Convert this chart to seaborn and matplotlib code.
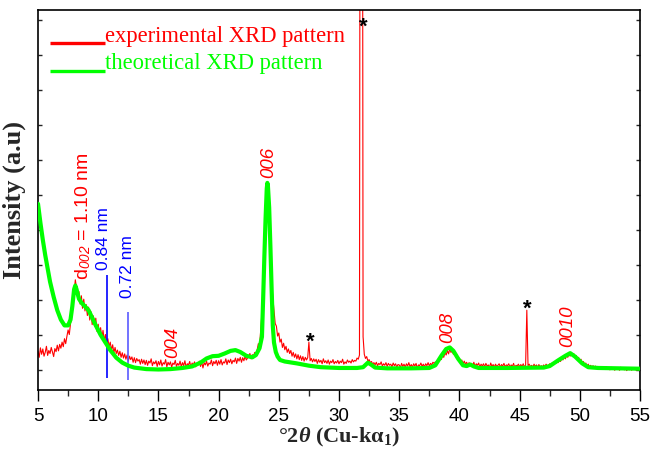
import numpy as np
import pandas as pd
import matplotlib
matplotlib.use("Agg")
import matplotlib.pyplot as plt
from matplotlib.ticker import MultipleLocator
import seaborn as sns

# ---------------- data ----------------
# experimental pattern, 2theta from 5.0 to 55.0 step 0.1 (intensity in % of axis height)
exp_2theta_start = 5.0
exp_2theta_step = 0.1
exp_intensity = [
    10.2, 8.6, 11.1, 9.4, 10.8, 8.9, 9.9, 11.5, 9.1, 10.4,
    9.6, 11.2, 10.0, 8.8, 10.9, 10.1, 11.8, 10.3, 12.0, 11.0,
    12.6, 11.4, 13.5, 12.2, 14.1, 15.8, 14.6, 17.5, 19.2, 22.4,
    25.6, 29.0, 26.8, 24.1, 25.9, 22.6, 24.8, 21.5, 23.9, 20.8,
    22.5, 19.6, 21.8, 18.4, 20.6, 17.2, 19.5, 16.8, 18.9, 15.4,
    17.3, 14.8, 16.4, 13.6, 15.7, 12.9, 14.6, 12.2, 13.5, 11.4,
    12.6, 10.5, 11.9, 9.8, 11.2, 9.6, 10.5, 9.1, 10.2, 8.6,
    9.8, 8.4, 9.5, 8.1, 9.2, 7.6, 8.9, 8.0, 8.7, 7.3,
    8.5, 7.2, 8.3, 7.6, 8.0, 6.8, 8.1, 7.0, 7.9, 6.7,
    7.8, 6.5, 7.6, 7.1, 8.2, 6.4, 7.4, 6.9, 7.7, 6.2,
    7.5, 6.6, 7.9, 6.3, 7.2, 6.8, 8.0, 6.1, 7.3, 6.6,
    7.4, 6.0, 7.1, 6.7, 7.8, 6.2, 7.0, 6.5, 7.6, 6.1,
    7.2, 6.4, 7.7, 6.0, 6.9, 6.6, 7.5, 5.9, 7.1, 6.5,
    7.4, 6.1, 7.0, 6.7, 7.6, 6.2, 7.3, 5.8, 7.2, 6.6,
    7.6, 6.3, 7.1, 6.8, 7.9, 6.4, 7.5, 6.9, 7.8, 6.5,
    7.7, 6.8, 8.0, 6.6, 7.4, 7.1, 8.2, 6.7, 7.9, 7.2,
    8.1, 6.9, 7.8, 7.4, 8.4, 7.0, 8.3, 7.6, 8.6, 7.3,
    8.5, 7.7, 8.9, 7.9, 8.4, 8.8, 9.6, 8.2, 9.3, 8.7,
    9.9, 9.2, 10.5, 12.2, 11.5, 15.8, 20.5, 26.0, 33.0, 41.0,
    47.0, 48.0, 44.0, 36.0, 28.5, 24.5, 21.0, 17.5, 16.8, 14.2,
    15.0, 12.6, 13.4, 11.2, 12.3, 10.6, 11.5, 9.9, 10.8, 9.6,
    10.4, 8.9, 9.9, 8.6, 9.5, 8.2, 9.3, 8.0, 9.0, 7.8,
    8.8, 7.6, 8.6, 7.9, 8.5, 12.6, 7.7, 8.3, 7.4, 8.2,
    7.5, 8.1, 7.0, 8.0, 7.3, 7.8, 6.9, 8.2, 7.2, 7.7,
    7.0, 7.9, 6.8, 7.6, 7.2, 8.0, 6.9, 7.5, 7.1, 7.8,
    6.9, 7.6, 7.2, 8.1, 6.8, 7.4, 7.0, 7.9, 7.3, 7.6,
    7.1, 8.0, 7.4, 7.8, 7.6, 8.4, 8.1, 9.2, 300.0, 300.0,
    14.0, 9.4, 8.3, 8.8, 7.6, 8.0, 7.2, 7.5, 6.8, 7.2,
    6.6, 7.3, 6.4, 7.0, 6.7, 7.4, 6.3, 6.9, 6.5, 7.2,
    6.2, 7.0, 6.5, 6.8, 6.1, 7.1, 6.4, 6.9, 6.0, 6.7,
    6.6, 5.9, 7.0, 6.2, 6.8, 6.0, 6.9, 6.3, 7.2, 6.1,
    6.7, 6.0, 6.9, 6.3, 7.0, 5.8, 6.6, 6.4, 7.1, 6.2,
    6.8, 6.1, 6.9, 6.4, 7.2, 6.3, 7.0, 6.6, 7.3, 7.0,
    7.4, 6.9, 7.8, 7.5, 8.3, 8.0, 9.1, 8.6, 9.8, 9.2,
    10.4, 9.5, 10.8, 9.9, 10.2, 9.4, 9.8, 8.7, 9.2, 8.0,
    8.4, 7.4, 7.9, 6.9, 7.6, 6.8, 7.3, 6.5, 7.2, 6.7,
    7.0, 6.4, 7.3, 6.2, 6.9, 6.5, 7.1, 6.0, 6.8, 6.3,
    6.9, 6.1, 7.0, 6.3, 6.6, 5.9, 7.1, 6.2, 6.7, 6.0,
    6.8, 6.2, 6.5, 6.9, 6.0, 6.7, 6.3, 7.0, 6.1, 6.6,
    6.4, 6.9, 6.0, 6.6, 6.2, 7.0, 5.9, 6.5, 6.3, 6.8,
    6.1, 6.7, 6.2, 6.9, 6.0, 6.6, 21.0, 6.4, 6.8, 6.1,
    6.5, 6.0, 6.8, 6.2, 6.6, 5.9, 6.7, 6.1, 6.4, 6.0,
    6.6, 6.1, 6.8, 6.3, 6.5, 6.9, 6.4, 7.1, 6.7, 7.3,
    7.0, 7.6, 7.2, 8.0, 7.5, 8.4, 7.9, 8.8, 8.2, 9.1,
    8.6, 9.4, 8.9, 9.8, 9.0, 9.6, 8.5, 9.1, 8.0, 8.6,
    7.6, 8.1, 7.0, 7.5, 6.6, 7.1, 6.2, 6.8, 6.0, 6.5,
    5.9, 6.4, 5.8, 6.3, 5.6, 6.2, 5.7, 6.1, 5.5, 6.0,
    5.8, 5.4, 6.1, 5.6, 5.9, 5.3, 6.0, 5.5, 5.8, 5.2,
    5.9, 5.4, 5.7, 5.2, 6.0, 5.5, 5.8, 5.3, 5.6, 5.1,
    5.7, 5.3, 5.9, 5.2, 5.6, 5.4, 5.8, 5.1, 5.5, 5.3,
    5.4,
]

theo_2theta = [5.0, 5.2, 5.4, 5.6, 5.8, 6.0, 6.3, 6.6, 6.9, 7.2, 7.5, 7.7, 7.85,
               8.0, 8.1, 8.2, 8.4, 8.6, 8.9, 9.2, 9.5, 9.8, 10.2, 10.6, 11.0,
               11.5, 12.0, 12.5, 13.0, 14.0, 15.0, 16.0, 17.0, 17.8, 18.5, 19.0,
               19.5, 20.0, 20.5, 21.0, 21.4, 21.8, 22.3, 22.8, 23.1, 23.4, 23.6,
               23.7, 23.8, 23.9, 24.0, 24.05, 24.1, 24.2, 24.3, 24.4, 24.5, 24.6,
               24.75, 24.9, 25.1, 25.5, 26.5, 27.5, 28.5, 30.0, 31.5, 32.0, 32.4,
               32.7, 33.0, 34.0, 36.0, 37.5, 38.0, 38.5, 38.9, 39.2, 39.5, 39.9,
               40.3, 40.6, 40.9, 41.2, 41.6, 44.0, 47.0, 47.5, 48.2, 48.8, 49.2,
               49.6, 50.2, 50.7, 51.5, 55.0]
theo_intensity = [49.0, 44.0, 39.5, 35.5, 32.0, 28.5, 24.5, 21.0, 18.5, 17.0, 17.0,
                  18.5, 22.0, 26.5, 27.5, 26.5, 24.0, 23.0, 22.0, 21.0, 19.0, 17.0,
                  14.5, 12.5, 10.5, 8.5, 7.2, 6.4, 5.9, 5.5, 5.4, 5.5, 5.8, 6.2,
                  7.2, 8.3, 8.9, 9.0, 9.6, 10.3, 10.5, 10.0, 9.0, 8.6, 9.2, 11.0,
                  14.0, 24.0, 35.0, 45.0, 53.0, 54.5, 53.5, 48.0, 38.0, 27.0, 17.0,
                  12.5, 10.0, 8.8, 7.9, 7.5, 7.0, 6.4, 6.0, 5.8, 5.8, 6.0, 7.2,
                  6.6, 5.9, 5.7, 5.7, 5.8, 6.5, 9.0, 10.8, 11.2, 10.3, 8.2, 6.5,
                  6.3, 6.7, 6.2, 5.8, 5.8, 5.9, 6.3, 7.8, 9.0, 9.7, 8.8, 7.0,
                  6.0, 5.8, 5.6]

# reflection labels
hkl_labels = ["004", "006", "008", "0010"]
hkl_pos = [16.2, 24.2, 39.0, 49.0]
hkl_base = [8.4, 55.7, 12.4, 11.3]

# impurity markers
star_pos = [32.0, 27.6, 45.6]
star_height = [95.5, 12.5, 21.2]

# d-spacing reference lines
dline_pos = [10.7, 12.45]
dline_top = [30.3, 20.5]
dline_bottom = [3.2, 2.6]
dline_text = ["0.84 nm", "0.72 nm"]
dtext_pos = [10.45, 12.4]
dtext_base = [31.6, 24.2]

legend_labels = ["experimental XRD pattern", "theoretical XRD pattern"]

# ---------------- plot ----------------
sns.set_theme(style="ticks")
plt.rcParams["font.family"] = ["Liberation Sans", "DejaVu Sans"]
plt.rcParams["mathtext.fontset"] = "custom"
plt.rcParams["mathtext.rm"] = "Liberation Serif:bold"
plt.rcParams["mathtext.it"] = "Liberation Serif:bold:italic"
plt.rcParams["mathtext.sf"] = "Liberation Sans:italic"

n = len(exp_intensity)
exp_df = pd.DataFrame({
    "two_theta": exp_2theta_start + exp_2theta_step * np.arange(n),
    "intensity": exp_intensity,
})
theo_df = pd.DataFrame({"two_theta": theo_2theta, "intensity": theo_intensity})

fig = plt.figure(figsize=(6.51, 4.54), dpi=100)
ax = fig.add_axes([38 / 651, 1 - 390 / 454, 602 / 651, 380 / 454])

sns.lineplot(data=exp_df, x="two_theta", y="intensity", ax=ax, color="#ff0000",
             lw=0.8, estimator=None, zorder=2)
ax.vlines(dline_pos, dline_bottom, dline_top, colors=["#0000ff", "#5a5aff"],
          lw=1.2, zorder=3)
sns.lineplot(data=theo_df, x="two_theta", y="intensity", ax=ax, color="#00ff00",
             lw=3.0, estimator=None, zorder=4)

ax.set_xlim(5, 55)
ax.set_ylim(0, 100)
ax.xaxis.set_major_locator(MultipleLocator(5))
ax.xaxis.set_minor_locator(MultipleLocator(2.5))
ax.set_yticks(np.arange(5.3, 100, 9.2))
ax.set_yticklabels([])
ax.tick_params(axis="x", which="major", direction="out", length=8, width=1,
               labelsize=13.5, colors="black", pad=5)
ax.tick_params(axis="x", which="minor", direction="out", length=4, width=1)
ax.tick_params(axis="y", which="major", direction="in", length=3, width=1,
               left=True, right=True)
for s in ax.spines.values():
    s.set_visible(True)
    s.set_color("black")
    s.set_linewidth(1.2)

ax.set_xlabel("°2$\\theta$ (Cu-kα$_{1}$)", fontsize=16, fontweight="bold",
              family=["Liberation Serif", "DejaVu Serif"], labelpad=1)
ax.set_ylabel("Intensity (a.u)", fontsize=19, fontweight="bold",
              family=["Liberation Serif", "DejaVu Serif"], labelpad=5)

# legend drawn as lines with labels at their baseline
leg_colors = ["#ff0000", "#00ff00"]
leg_line_y = [0.913, 0.839]
leg_text_y = [0.917, 0.844]
for lab, c, ly, ty in zip(legend_labels, leg_colors, leg_line_y, leg_text_y):
    ax.plot([0.02, 0.111], [ly, ly], transform=ax.transAxes, color=c, lw=2.4,
            solid_capstyle="butt", zorder=5)
    ax.text(0.112, ty, lab, transform=ax.transAxes, color=c, fontsize=16.3,
            family=["Liberation Serif", "DejaVu Serif"], va="baseline", ha="left")

# annotations
ax.text(8.74, 29.0, "d$_{\\mathsf{002}}$ = 1.10 nm", rotation=90, color="#ff0000",
        fontsize=14, ha="center", va="bottom", zorder=6)
for t, xp, yb in zip(dline_text, dtext_pos, dtext_base):
    ax.text(xp, yb, t, rotation=90, color="#0000ff", fontsize=12.5,
            ha="center", va="bottom", zorder=6)
for t, xp, yb in zip(hkl_labels, hkl_pos, hkl_base):
    ax.text(xp, yb, t, rotation=90, color="#ff0000", fontsize=13.5,
            style="italic", ha="center", va="bottom", zorder=6)
for xp, yp in zip(star_pos, star_height):
    ax.text(xp, yp, "*", color="black", fontsize=16, fontweight="bold",
            ha="center", va="center", zorder=6)

fig.savefig("out.png", dpi=100)
